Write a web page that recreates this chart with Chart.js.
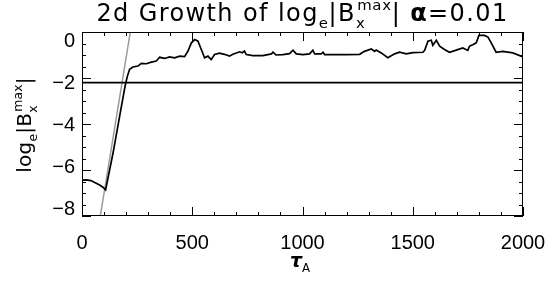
<!DOCTYPE html>
<html>
<head>
<meta charset="utf-8">
<script src="https://cdn.jsdelivr.net/npm/chart.js@4"></script>
<style>
  html, body { margin: 0; padding: 0; background: #fff; }
  #wrap { width: 551px; height: 283px; }
</style>
</head>
<body>
<div id="wrap"><canvas id="growthChart" width="551" height="283"></canvas></div>
<script>
// growth curve
const tau = [0, 20, 40, 60, 80, 95, 107, 141, 170, 195, 205, 216, 231, 254, 269, 292, 314,
  337, 352, 375, 397, 420, 443, 465, 480, 496, 511, 526, 541, 556, 571, 586, 601, 624, 646, 669, 684,
  715, 727, 737, 745, 775, 820, 859, 866, 880, 911, 941, 957, 972, 1002, 1032, 1047, 1055, 1085, 1093, 1100,
  1138, 1199, 1259, 1281, 1312, 1327, 1334, 1357, 1387, 1418, 1440, 1471, 1501, 1546, 1554, 1569, 1584, 1591, 1607, 1622,
  1644, 1667, 1697, 1727, 1750, 1757, 1772, 1788, 1800, 1825, 1841, 1856, 1878, 1908, 1954, 2000];
const logB = [-6.44, -6.43, -6.46, -6.55, -6.65, -6.75, -6.87, -5.25, -3.7, -2.37, -1.95, -1.62, -1.52, -1.48, -1.36, -1.38, -1.31,
  -1.26, -1.10, -1.15, -1.08, -1.12, -1.05, -1.07, -0.84, -0.47, -0.33, -0.40, -0.76, -1.12, -1.05, -1.20, -0.98, -0.92, -0.97, -1.05, -0.97,
  -0.86, -0.90, -0.83, -0.98, -1.03, -1.03, -0.95, -0.88, -1.00, -0.98, -0.94, -0.79, -0.95, -0.98, -0.95, -0.79, -0.95, -0.95, -0.88, -0.98,
  -0.98, -0.98, -0.97, -0.84, -0.74, -0.84, -0.78, -0.91, -1.12, -0.95, -0.88, -0.95, -0.90, -0.88, -0.80, -0.40, -0.36, -0.58, -0.36, -0.62,
  -0.76, -0.88, -0.79, -0.69, -0.80, -0.62, -0.55, -0.47, -0.15, -0.15, -0.22, -0.47, -0.88, -0.84, -0.91, -1.08];

// linear growth fit (grey) and saturation level
const fitTau = [83, 219];
const fitLog = [-8, 0];
const satTau = [0, 2000];
const satLog = [-2.2, -2.2];

// axes
const xTicks = [0, 500, 1000, 1500, 2000];
const xMinor = [100, 200, 300, 400, 600, 700, 800, 900, 1100, 1200, 1300, 1400, 1600, 1700, 1800, 1900];
const yTicks = [-8, -6, -4, -2, 0];
const yMinor = [-7.5, -7, -6.5, -5.5, -5, -4.5, -3.5, -3, -2.5, -1.5, -1, -0.5];

const FONT = 'Liberation Sans, Arial, sans-serif';
const WIDE = 'DejaVu Sans, sans-serif';

const pts = (xs, ys) => xs.map((x, i) => ({ x: x, y: ys[i] }));

// text with sub/superscripts, e.g. log_e|B_x^max|
function layoutRich(ctx, parts, size, family, spacing) {
  const items = [];
  let cx = 0, subStart = null, subEnd = 0;
  parts.forEach(p => {
    const small = p.k === 'sub' || p.k === 'sup';
    const fs = small ? size * 0.62 : size;
    const font = (p.style || '') + ' ' + fs + 'px ' + (p.family || family);
    ctx.font = font;
    ctx.letterSpacing = (small ? spacing * 0.5 : spacing) + 'px';
    const w = ctx.measureText(p.t).width;
    let x0 = cx;
    if (p.k === 'sup' && subStart !== null) x0 = subStart + size * 0.05;
    const dy = p.k === 'sub' ? size * 0.28 : p.k === 'sup' ? -size * 0.45 : 0;
    items.push({ t: p.t, font: font, ls: ctx.letterSpacing, x: x0, dy: dy });
    if (p.k === 'sub') { subStart = x0; subEnd = x0 + w; cx = x0 + w; }
    else if (p.k === 'sup' && subStart !== null) { cx = Math.max(subEnd, x0 + w); subStart = null; }
    else { cx = x0 + w; subStart = null; }
  });
  return { items: items, width: cx };
}

function drawRich(ctx, parts, size, family, spacing, cx, baseY, rot) {
  ctx.save();
  const lay = layoutRich(ctx, parts, size, family, spacing);
  ctx.translate(cx, baseY);
  if (rot) ctx.rotate(rot);
  ctx.fillStyle = '#000';
  ctx.textBaseline = 'alphabetic';
  ctx.textAlign = 'left';
  lay.items.forEach(it => {
    ctx.font = it.font;
    ctx.letterSpacing = it.ls;
    ctx.fillText(it.t, -lay.width / 2 + it.x, it.dy);
  });
  ctx.restore();
}

const bLabel = [
  { t: 'log', k: 'n' }, { t: 'e', k: 'sub' }, { t: '|B', k: 'n' },
  { t: 'x', k: 'sub' }, { t: 'max', k: 'sup' }, { t: '|', k: 'n' }
];

const frame = {
  id: 'frame',
  afterDraw(chart) {
    const ctx = chart.ctx;
    const a = chart.chartArea;
    const sx = chart.scales.x, sy = chart.scales.y;
    ctx.save();
    ctx.strokeStyle = '#000';
    ctx.lineWidth = 1;
    ctx.strokeRect(a.left + 0.5, a.top + 0.5, a.right - a.left - 1, a.bottom - a.top - 1);
    ctx.beginPath();
    const xt = (v, len) => {
      const px = Math.round(sx.getPixelForValue(v)) + 0.5;
      ctx.moveTo(px, a.bottom); ctx.lineTo(px, a.bottom - len);
      ctx.moveTo(px, a.top); ctx.lineTo(px, a.top + len);
    };
    const yt = (v, len) => {
      const py = Math.round(sy.getPixelForValue(v)) + 0.5;
      ctx.moveTo(a.left, py); ctx.lineTo(a.left + len, py);
      ctx.moveTo(a.right, py); ctx.lineTo(a.right - len, py);
    };
    xTicks.forEach(v => xt(v, 9));
    xMinor.forEach(v => xt(v, 4));
    yTicks.forEach(v => yt(v, 9));
    yMinor.forEach(v => yt(v, 4));
    ctx.stroke();
    ctx.restore();

    // title and axis titles
    drawRich(ctx, [
      { t: '2d Growth of log', k: 'n' }, { t: 'e', k: 'sub' }, { t: '|B', k: 'n' },
      { t: 'x', k: 'sub' }, { t: 'max', k: 'sup' }, { t: '| ', k: 'n' },
      { t: '\u03b1', k: 'n', style: 'bold' }, { t: '=0.01', k: 'n' }
    ], 24, WIDE, 1.4, (a.left + a.right) / 2, 21, 0);
    drawRich(ctx, bLabel, 20, WIDE, 0.3, 31, (a.top + a.bottom) / 2 + 1, -Math.PI / 2);
    drawRich(ctx, [
      { t: '\u03c4', k: 'n', style: 'bold italic' }, { t: 'A', k: 'sub' }
    ], 19, WIDE, 0, 300, 267, 0);
  }
};

new Chart(document.getElementById('growthChart').getContext('2d'), {
  type: 'line',
  data: {
    datasets: [
      { data: pts(tau, logB), xAxisID: 'x', yAxisID: 'y', borderColor: '#000', borderWidth: 1.7, order: 0 },
      { data: pts(satTau, satLog), xAxisID: 'x', yAxisID: 'y', borderColor: '#000', borderWidth: 1.6, order: 1 },
      { data: pts(fitTau, fitLog), xAxisID: 'x', yAxisID: 'y', borderColor: '#9a9a9a', borderWidth: 1.5, order: 2 }
    ]
  },
  plugins: [frame],
  options: {
    responsive: false,
    animation: false,
    devicePixelRatio: 1,
    layout: { padding: { top: 32, right: 28, left: 0, bottom: 0 } },
    elements: { point: { radius: 0 }, line: { tension: 0 } },
    plugins: { legend: { display: false }, tooltip: { enabled: false } },
    scales: {
      x: {
        type: 'linear', min: 0, max: 2000,
        grid: { display: false, drawTicks: false },
        border: { display: false },
        afterBuildTicks: s => { s.ticks = xTicks.map(v => ({ value: v })); },
        afterFit: s => { s.height = 67; s.paddingLeft = 0; s.paddingRight = 0; },
        ticks: { color: '#000', padding: 15, maxRotation: 0, font: { family: FONT, size: 20 },
          callback: v => String(v) }
      },
      y: { type: 'linear', min: -8, max: 0, display: false },
      // label axis: the tick labels sit slightly inside the frame in the original
      yl: {
        type: 'linear', position: 'left', min: -8.33, max: 0.43,
        grid: { display: false, drawTicks: false },
        border: { display: false },
        afterBuildTicks: s => { s.ticks = yTicks.map(v => ({ value: v })); },
        afterFit: s => { s.width = 82; s.paddingTop = 0; s.paddingBottom = 0; },
        ticks: {
          color: '#000', padding: 7, font: { family: FONT, size: 20 },
          callback: v => (v < 0 ? '\u2212' + Math.abs(v) : String(v))
        }
      }
    }
  }
});
</script>
</body>
</html>
